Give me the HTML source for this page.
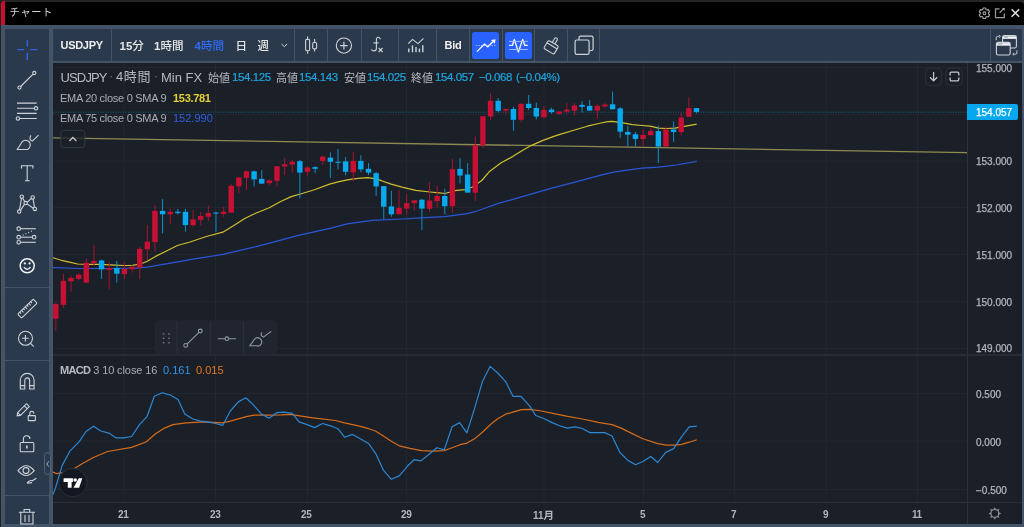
<!DOCTYPE html>
<html><head><meta charset="utf-8"><title>チャート</title>
<style>
*{box-sizing:border-box}
html,body{margin:0;padding:0}
body{width:1024px;height:527px;position:relative;overflow:hidden;background:#445468;font-family:"Liberation Sans","Noto Sans CJK JP",sans-serif}
.a{position:absolute}
.t{position:absolute;white-space:nowrap;line-height:1}
.tb{background:#2a3a4c}
.cjk{font-family:"Liberation Sans","Noto Sans CJK JP",sans-serif}
.cy{font-size:11.5px;color:#1ea6df;letter-spacing:-0.4px;-webkit-text-stroke-width:0.2px}
.pa{left:976px;font-size:10px;color:#b2b5be;-webkit-text-stroke-width:0.25px}
.ta{top:510px;font-size:10px;font-weight:bold;color:#b2b5be;letter-spacing:-0.4px}
.tf{top:41px;font-size:11.5px;font-weight:500;color:#e6e6e6}
svg{position:absolute;left:0;top:0;overflow:visible}
</style></head>
<body>
<!-- outer edges -->
<div class="a" style="left:0;top:0;width:1024px;height:2px;background:#252525"></div>
<div class="a" style="left:0;top:0;width:1px;height:527px;background:#232323"></div>
<!-- title bar -->
<div class="a" style="left:1000px;top:0;width:24px;height:10px;background:#262626"></div>
<div class="a" style="left:1px;top:1.5px;width:1023px;height:23px;background:#000;border-top-right-radius:4px"></div>
<div class="a" style="left:1px;top:1.3px;width:4px;height:23.3px;background:#c8102e;border-top-left-radius:3px"></div>
<div class="t cjk" style="left:9.5px;top:8.2px;font-size:10.2px;letter-spacing:0.8px;color:#d6d6d6">チャート</div>
<svg width="1024" height="26">
  <g fill="none" stroke="#a8a8a8" stroke-width="1.1">
    <circle cx="984.4" cy="13.3" r="1.4"/>
    <path d="M982.86 9.50 L983.19 8.04 L985.61 8.04 L985.94 9.50 L986.92 10.07 L988.35 9.62 L989.56 11.72 L988.46 12.73 L988.46 13.87 L989.56 14.88 L988.35 16.98 L986.92 16.53 L985.94 17.10 L985.61 18.56 L983.19 18.56 L982.86 17.10 L981.88 16.53 L980.45 16.98 L979.24 14.88 L980.34 13.87 L980.34 12.73 L979.24 11.72 L980.45 9.62 L981.88 10.07Z" stroke-linejoin="round"/>
  </g>
  <g fill="none" stroke="#9c9c9c" stroke-width="1.2">
    <path d="M999.5 8.8 h-4 v8.8 h8.8 v-4"/>
    <path d="M999.6 12.8 l4.6 -4.6"/>
  </g>
  <path d="M1002 8.2 h2.6 v2.6z" fill="#bdbdbd"/>
  <path d="M1011.6 9.2 l7.6 7.6 M1019.2 9.2 l-7.6 7.6" stroke="#dedede" stroke-width="1.5"/>
</svg>

<!-- left toolbar groups -->
<div class="a tb" style="left:5px;top:29px;width:44px;height:258px;border-radius:1px"></div>
<div class="a tb" style="left:5px;top:288px;width:44px;height:72px;border-radius:1px"></div>
<div class="a tb" style="left:5px;top:361px;width:44px;height:134px;border-radius:1px"></div>
<div class="a tb" style="left:5px;top:496px;width:44px;height:28px;border-radius:1px 1px 0 0"></div>


<!-- left toolbar icons -->
<svg width="60" height="527">
 <g stroke="#2f62e4" stroke-width="1.4" fill="none">
  <path d="M27.3 39.7v7.1M27.3 52.8v7.1M17.1 49.6h7.1M30.2 49.6h7.1"/>
 </g>
 <g stroke="#cfd2d8" stroke-width="1.1" fill="none">
  <!-- line tool -->
  <path d="M20.6 86.5L33.1 74.2"/>
  <circle cx="19.5" cy="87.6" r="1.6"/><circle cx="34.3" cy="73" r="1.6"/>
  <!-- fib -->
  <path d="M17 103.1h19.6M17 108.3h17.2M17 113.4h19.6M19.6 118.5h17.2"/>
  <circle cx="36" cy="108.3" r="1.7"/><circle cx="17.9" cy="118.5" r="1.7"/>
  <!-- brush -->
  <path d="M17.2 149.5L21.9 142.2A4.6 4.6 0 1 1 25 149.5Z"/>
  <path d="M30.9 135.4Q28.3 139.6 32.3 141.1L38.6 135.2"/>
  <!-- T -->
  <path d="M21.5 168.4v-2.6h11.4v2.6M27.2 165.8v15M24.9 180.8h4.8"/>
  <!-- pattern -->
  <circle cx="21.8" cy="196.7" r="1.7"/><circle cx="32.7" cy="197.4" r="1.7"/><circle cx="25.6" cy="203.1" r="1.7"/><circle cx="19.2" cy="211.6" r="1.7"/><circle cx="34.9" cy="208.9" r="1.7"/>
  <path d="M19.5 209.9L21.5 198.4M22.6 198.2L24.8 201.6M27.2 202.3L31.3 198.3M33.1 199.1L34.5 207.2M33.3 208.2L27.1 203.9M20.5 210.4L24.4 204.4"/>
  <!-- forecast -->
  <circle cx="18.7" cy="228.7" r="1.8"/><path d="M20.5 228.7h15.3"/>
  <circle cx="18.7" cy="237.2" r="1.8"/><circle cx="34.1" cy="237.2" r="1.8"/><path d="M20.5 237.2h11.8"/>
  <circle cx="18.7" cy="242.3" r="1.8"/><path d="M20.5 242.3h15.3"/>
  <path d="M22.8 235.3l10.7-5.1" stroke-dasharray="1 2"/>
  <!-- smiley -->
  <circle cx="27.2" cy="265.8" r="7" stroke-width="1.5" stroke="#f2f3f5"/><circle cx="24.8" cy="263.4" r="1.1" fill="#f2f3f5" stroke="none"/><circle cx="29.6" cy="263.4" r="1.1" fill="#f2f3f5" stroke="none"/>
  <path d="M23.9 267.1Q27.2 271.4 30.5 267.1" stroke-width="1.4" stroke="#f2f3f5"/>
  <!-- ruler -->
  <g transform="rotate(-44 27.4 308.6)"><rect x="16.6" y="305.8" width="21.6" height="5.6" rx="1"/><path d="M19.5 305.8v2M22 305.8v2.8M24.5 305.8v2M27 305.8v2.8M29.5 305.8v2M32 305.8v2.8M34.5 305.8v2"/></g>
  <!-- zoom -->
  <circle cx="25.5" cy="338.3" r="7"/><path d="M25.4 335v6.6M22.1 338.3h6.6M30.6 343.3l3.2 3.3"/>
  <!-- magnet -->
  <path d="M20.3 389V380.3A6.9 6.9 0 0 1 34.1 380.3V389H29.6V380.3A2.4 2.4 0 0 0 24.8 380.3V389Z"/>
  <path d="M20.3 385.6h4.5M29.6 385.6h4.5"/>
  <!-- pencil -->
  <g transform="rotate(-45 24 409)"><path d="M17 407h12.5v4H17l-2.7-2Z"/><path d="M17 407v4M26.5 407v4"/></g>
  <rect x="28.2" y="415.6" width="7.2" height="5" rx="0.6"/><path d="M29.8 415.6v-2.2a2 2 0 0 1 4 0"/>
  <!-- unlock -->
  <rect x="20.2" y="442.5" width="13.6" height="9.2" rx="1"/><path d="M23.4 442.5v-3.2a3.3 3.3 0 0 1 6.6 -0.4"/>
  <path d="M26.9 445.4v3" stroke-width="1.6"/>
  <!-- eye -->
  <path d="M18 470.6Q26.1 460.8 34.2 470.6Q26.1 480.4 18 470.6Z"/><circle cx="26" cy="470.6" r="3"/>
  <path d="M27 483.3Q29.5 479.5 32.2 480.8L36.4 478.3M27 483.3L32 482.6"/>
  <!-- trash -->
  <path d="M18.8 512.2h16.2M24.1 512v-2.5h5.6v2.5M20.8 512.2V524h12.2V512.2M25 515v7M29 515v7"/>
 </g>
 <!-- collapse tab -->
 <rect x="44.5" y="452.8" width="6" height="21.5" rx="2.5" fill="#2a3a4c" stroke="#506178" stroke-width="1"/>
 <path d="M48.6 461.4L46.8 464L48.6 466.6" stroke="#aab3c0" stroke-width="1" fill="none"/>
</svg>

<!-- top toolbar groups -->
<div class="a tb" style="left:53px;top:29px;width:58px;height:32px"></div>
<div class="a tb" style="left:112px;top:29px;width:182px;height:32px"></div>
<div class="a tb" style="left:295px;top:29px;width:32px;height:32px"></div>
<div class="a tb" style="left:328px;top:29px;width:33px;height:32px"></div>
<div class="a tb" style="left:362px;top:29px;width:36px;height:32px"></div>
<div class="a tb" style="left:399px;top:29px;width:37px;height:32px"></div>
<div class="a tb" style="left:437px;top:29px;width:32px;height:32px"></div>
<div class="a tb" style="left:470px;top:29px;width:32px;height:32px"></div>
<div class="a tb" style="left:503px;top:29px;width:31px;height:32px"></div>
<div class="a tb" style="left:535px;top:29px;width:32px;height:32px"></div>
<div class="a tb" style="left:568px;top:29px;width:31px;height:32px"></div>
<div class="a tb" style="left:600px;top:29px;width:390px;height:32px"></div>
<div class="a tb" style="left:991px;top:29px;width:31px;height:32px"></div>
<div class="a" style="left:472.2px;top:31.6px;width:26.9px;height:27.3px;background:#2962ff;border-radius:2.5px"></div>
<div class="a" style="left:505px;top:31.6px;width:26.9px;height:27.3px;background:#2962ff;border-radius:2.5px"></div>


<!-- top toolbar icons -->
<svg width="1024" height="64">
 <g stroke="#cfd2d8" stroke-width="1.1" fill="none">
  <path d="M281.5 44l2.8 2.6 2.8-2.6" stroke-width="1"/>
  <!-- candles -->
  <rect x="305.6" y="39.4" width="4" height="11.4" rx="1.2"/><path d="M307.6 36.6v2.8M307.6 50.8v3"/>
  <rect x="312.7" y="42.5" width="3.9" height="6.4" rx="1.2"/><path d="M314.6 39.1v3.4M314.6 48.9v2.7"/>
  <!-- plus circle -->
  <circle cx="343.9" cy="45.6" r="7.6"/><path d="M343.9 41.8v7.6M340.1 45.6h7.6" stroke-width="1.2"/>
  <!-- fx -->
  <path d="M380.4 39.4Q380.2 37.2 378.1 37.3Q376.4 37.5 376.4 40V48.6Q376.4 50.9 374 50.9Q371.8 50.9 371.6 49.2"/>
  <path d="M373.3 42.9h5.4"/>
  <path d="M378.6 47.8l4 4.2M382.6 47.8l-4 4.2" stroke-width="1.2"/>
  <!-- indicators -->
  <path d="M408.3 43.6L412.5 39.4L418 43.6L423.5 38.4"/>
  <path d="M408.8 48.6v3.6M412.5 45.2v7M416 47.1v5.1M419.4 48.6v3.6M422.8 45.2v7" stroke-width="1.4"/>
  <!-- brush -->
  <g transform="rotate(31 551.1 47.3)"><rect x="545.2" y="42.6" width="11.9" height="9.4" rx="1.5"/><path d="M545.2 45.6h11.9"/><path d="M549.6 42.6v-4.6a1.5 1.5 0 0 1 3 0v4.6"/></g>
  <!-- copy -->
  <path d="M579 39.9v-2.2a1.5 1.5 0 0 1 1.5 -1.5h11.1a1.5 1.5 0 0 1 1.5 1.5v11.3a1.5 1.5 0 0 1 -1.5 1.5h-2.3" stroke-width="1.2"/>
  <rect x="575.1" y="40" width="14" height="14.4" rx="1.6" stroke-width="1.2"/>
  <!-- layout icon -->
  <rect x="1002.6" y="35.6" width="13.8" height="12.4" rx="1.8"/>
  <path d="M1002.8 37.6h13.4" stroke-width="2.6" stroke="#eef0f3"/>
  <rect x="996.4" y="42.4" width="13.8" height="12.6" rx="1.8" fill="#2a3a4c"/>
  <path d="M996.6 44.4h13.4" stroke-width="2.6" stroke="#eef0f3"/>
  <path d="M1004.3 37.2h3.6M998.2 44h4" stroke="#8e96a2" stroke-width="0.9"/>
  <path d="M996.2 40.2v-2.4a1.4 1.4 0 0 1 1.4 -1.4h1.3" stroke-width="1"/><path d="M999 35.2l1.4 1.2-1.4 1.2" stroke-width="1"/>
  <path d="M1016.9 50.4v2.4a1.4 1.4 0 0 1 -1.4 1.4h-1.3" stroke-width="1"/><path d="M1014.2 53l-1.4 1.2 1.4 1.2" stroke-width="1"/>
 </g>
 <!-- blue button icons -->
 <g stroke="#ffffff" stroke-width="1.3" fill="none">
  <path d="M476.9 51.6L484.5 44.1L487.8 46.8L493.8 40.8"/>
  <path d="M509.1 45.3h3.4L514.3 39.4L518.4 52L522.7 39.4L524.7 45.3h3.1" stroke-linejoin="round"/>
 </g>
 <path d="M495.6 39.2l-0.8 4.6-3.8-3.8z" fill="#fff"/>
 <path d="M475.9 45.5h19.7" stroke="#a9c2ff" stroke-width="1" stroke-dasharray="1.3 1.3"/>
 <path d="M509.1 41.4h18.7M509.1 49.5h18.7" stroke="#9fbaff" stroke-width="1"/>
</svg>

<!-- top toolbar text -->
<div class="t" style="left:60.5px;top:40px;font-size:11px;font-weight:bold;color:#f0f0f0;letter-spacing:-0.3px">USDJPY</div>
<div class="t tf" style="left:119.5px"><b>15</b>分</div>
<div class="t tf" style="left:154px"><b>1</b>時間</div>
<div class="t tf" style="left:194.5px;color:#2f6bf2"><b>4</b>時間</div>
<div class="t tf" style="left:235.5px">日</div>
<div class="t tf" style="left:257.5px">週</div>
<div class="t" style="left:444.5px;top:40px;font-size:11px;font-weight:bold;color:#f0f0f0;letter-spacing:-0.3px">Bid</div>
<!-- chart area -->
<div class="a" style="left:53px;top:63px;width:969px;height:461px;background:#1b2028"></div>
<svg width="1024" height="527">
<rect x="53" y="67.0" width="914" height="1" fill="#22272f"/>
<rect x="53" y="114.0" width="914" height="1" fill="#22272f"/>
<rect x="53" y="160.5" width="914" height="1" fill="#22272f"/>
<rect x="53" y="207.0" width="914" height="1" fill="#22272f"/>
<rect x="53" y="254.0" width="914" height="1" fill="#22272f"/>
<rect x="53" y="301.0" width="914" height="1" fill="#22272f"/>
<rect x="53" y="348.0" width="914" height="1" fill="#22272f"/>
<rect x="53" y="393.0" width="914" height="1" fill="#22272f"/>
<rect x="53" y="440.5" width="914" height="1" fill="#22272f"/>
<rect x="53" y="489.0" width="914" height="1" fill="#22272f"/>
<rect x="123.5" y="63" width="1" height="439" fill="#22272f"/>
<rect x="215.0" y="63" width="1" height="439" fill="#22272f"/>
<rect x="307.0" y="63" width="1" height="439" fill="#22272f"/>
<rect x="406.0" y="63" width="1" height="439" fill="#22272f"/>
<rect x="543.5" y="63" width="1" height="439" fill="#22272f"/>
<rect x="643.0" y="63" width="1" height="439" fill="#22272f"/>
<rect x="734.0" y="63" width="1" height="439" fill="#22272f"/>
<rect x="825.5" y="63" width="1" height="439" fill="#22272f"/>
<rect x="917.0" y="63" width="1" height="439" fill="#22272f"/>
<line x1="53" y1="137.9" x2="967" y2="152.6" stroke="#8e8a50" stroke-width="1.25"/>
<line x1="53" y1="112.2" x2="967" y2="112.2" stroke="#12617f" stroke-width="1" stroke-dasharray="1 1.5"/>
<polyline points="53.0,267.7 80.3,268.5 107.7,268.5 135.0,268.1 147.3,267.1 169.2,263.3 193.0,259.2 223.0,254.4 263.8,244.7 299.4,235.2 330.0,228.3 347.3,223.8 372.0,220.4 402.0,219.0 430.0,217.3 444.6,216.6 467.1,213.7 474.9,211.7 484.7,208.3 498.4,203.4 513.0,199.4 525.0,195.9 550.0,188.6 575.0,182.2 600.0,175.4 614.7,171.9 642.0,168.2 658.4,167.1 676.2,165.0 696.7,161.3" fill="none" stroke="#2a56d8" stroke-width="1.2" stroke-linejoin="round"/>
<polyline points="53.0,257.8 61.2,260.3 69.4,262.2 77.6,264.0 87.2,264.4 100.9,264.4 114.5,265.1 124.1,265.5 132.3,265.3 140.5,264.0 147.3,261.2 155.5,256.4 166.5,251.0 177.4,245.5 190.0,242.0 206.4,236.5 222.8,232.2 233.8,225.6 244.7,218.5 255.6,213.3 269.3,207.8 280.2,201.7 291.2,196.6 302.1,193.5 314.4,189.8 329.6,184.1 339.1,181.7 348.7,179.6 358.3,178.3 367.9,177.7 374.7,178.7 381.5,180.7 391.1,184.1 402.0,187.1 415.7,190.3 430.0,192.0 439.0,192.9 445.0,193.5 456.4,190.3 465.2,189.6 472.0,187.3 481.8,180.5 489.8,171.2 501.2,162.7 512.6,156.6 521.1,151.3 531.0,145.6 542.4,140.6 553.8,136.4 560.0,134.4 573.7,130.3 587.3,126.2 601.0,123.0 607.9,121.7 612.6,121.4 617.4,122.1 624.3,123.2 632.5,124.6 642.0,125.5 650.2,126.2 658.4,128.2 666.6,128.5 674.8,128.2 683.0,126.6 696.7,124.1" fill="none" stroke="#cfbe2e" stroke-width="1.2" stroke-linejoin="round"/>
<rect x="55.30" y="302.6" width="1" height="28.0" fill="#a8122f"/>
<rect x="53.10" y="304.1" width="5.4" height="14.6" fill="#c81034"/>
<rect x="62.93" y="273.7" width="1" height="34.2" fill="#a8122f"/>
<rect x="60.73" y="280.8" width="5.4" height="24.0" fill="#c81034"/>
<rect x="70.55" y="275.6" width="1" height="16.0" fill="#a8122f"/>
<rect x="68.35" y="277.9" width="5.4" height="3.4" fill="#c81034"/>
<rect x="78.18" y="273.2" width="1" height="7.0" fill="#a8122f"/>
<rect x="75.98" y="274.7" width="5.4" height="4.2" fill="#c81034"/>
<rect x="85.81" y="258.6" width="1" height="24.1" fill="#a8122f"/>
<rect x="83.61" y="262.7" width="5.4" height="20.0" fill="#c81034"/>
<rect x="93.44" y="244.7" width="1" height="20.9" fill="#a8122f"/>
<rect x="91.23" y="260.9" width="5.4" height="2.2" fill="#c81034"/>
<rect x="101.06" y="259.5" width="1" height="19.4" fill="#0c8fc9"/>
<rect x="98.86" y="260.5" width="5.4" height="8.9" fill="#08a9ef"/>
<rect x="108.69" y="261.8" width="1" height="27.1" fill="#a8122f"/>
<rect x="106.49" y="268.1" width="5.4" height="1.9" fill="#c81034"/>
<rect x="116.32" y="260.9" width="1" height="21.8" fill="#0c8fc9"/>
<rect x="114.12" y="268.0" width="5.4" height="5.7" fill="#08a9ef"/>
<rect x="123.94" y="262.4" width="1" height="16.5" fill="#a8122f"/>
<rect x="121.74" y="268.8" width="5.4" height="5.3" fill="#c81034"/>
<rect x="131.57" y="264.9" width="1" height="7.6" fill="#a8122f"/>
<rect x="129.37" y="266.8" width="5.4" height="2.4" fill="#c81034"/>
<rect x="139.20" y="246.9" width="1" height="32.2" fill="#a8122f"/>
<rect x="137.00" y="248.8" width="5.4" height="18.9" fill="#c81034"/>
<rect x="146.82" y="225.1" width="1" height="35.0" fill="#a8122f"/>
<rect x="144.62" y="241.6" width="5.4" height="7.7" fill="#c81034"/>
<rect x="154.45" y="205.2" width="1" height="46.4" fill="#a8122f"/>
<rect x="152.25" y="210.9" width="5.4" height="31.2" fill="#c81034"/>
<rect x="162.08" y="199.1" width="1" height="34.1" fill="#0c8fc9"/>
<rect x="159.88" y="210.9" width="5.4" height="3.4" fill="#08a9ef"/>
<rect x="169.70" y="208.6" width="1" height="15.5" fill="#a8122f"/>
<rect x="167.50" y="211.8" width="5.4" height="2.5" fill="#c81034"/>
<rect x="177.33" y="209.0" width="1" height="5.6" fill="#0c8fc9"/>
<rect x="175.13" y="211.8" width="5.4" height="1.3" fill="#08a9ef"/>
<rect x="184.96" y="209.0" width="1" height="22.7" fill="#0c8fc9"/>
<rect x="182.76" y="211.8" width="5.4" height="13.3" fill="#08a9ef"/>
<rect x="192.59" y="209.9" width="1" height="17.1" fill="#a8122f"/>
<rect x="190.39" y="219.4" width="5.4" height="5.7" fill="#c81034"/>
<rect x="200.21" y="211.8" width="1" height="13.7" fill="#a8122f"/>
<rect x="198.01" y="216.0" width="5.4" height="3.8" fill="#c81034"/>
<rect x="207.84" y="205.4" width="1" height="15.7" fill="#a8122f"/>
<rect x="205.64" y="213.0" width="5.4" height="3.8" fill="#c81034"/>
<rect x="215.47" y="211.7" width="1" height="20.2" fill="#0c8fc9"/>
<rect x="213.27" y="212.6" width="5.4" height="1.0" fill="#08a9ef"/>
<rect x="223.09" y="206.7" width="1" height="10.1" fill="#a8122f"/>
<rect x="220.89" y="211.7" width="5.4" height="2.2" fill="#c81034"/>
<rect x="230.72" y="184.0" width="1" height="28.6" fill="#a8122f"/>
<rect x="228.52" y="185.9" width="5.4" height="26.7" fill="#c81034"/>
<rect x="238.35" y="177.0" width="1" height="16.1" fill="#a8122f"/>
<rect x="236.15" y="177.5" width="5.4" height="8.9" fill="#c81034"/>
<rect x="245.97" y="170.3" width="1" height="19.9" fill="#a8122f"/>
<rect x="243.77" y="171.3" width="5.4" height="6.6" fill="#c81034"/>
<rect x="253.60" y="170.7" width="1" height="15.7" fill="#0c8fc9"/>
<rect x="251.40" y="171.3" width="5.4" height="8.1" fill="#08a9ef"/>
<rect x="261.23" y="170.0" width="1" height="13.6" fill="#0c8fc9"/>
<rect x="259.03" y="178.9" width="5.4" height="4.7" fill="#08a9ef"/>
<rect x="268.86" y="179.2" width="1" height="5.9" fill="#a8122f"/>
<rect x="266.66" y="180.4" width="5.4" height="2.8" fill="#c81034"/>
<rect x="276.48" y="166.0" width="1" height="20.4" fill="#a8122f"/>
<rect x="274.28" y="166.2" width="5.4" height="14.6" fill="#c81034"/>
<rect x="284.11" y="158.0" width="1" height="17.1" fill="#a8122f"/>
<rect x="281.91" y="164.3" width="5.4" height="2.2" fill="#c81034"/>
<rect x="291.74" y="159.9" width="1" height="12.7" fill="#a8122f"/>
<rect x="289.54" y="161.8" width="5.4" height="2.8" fill="#c81034"/>
<rect x="299.36" y="159.9" width="1" height="38.5" fill="#0c8fc9"/>
<rect x="297.16" y="161.2" width="5.4" height="11.4" fill="#08a9ef"/>
<rect x="306.99" y="166.2" width="1" height="9.4" fill="#a8122f"/>
<rect x="304.79" y="167.5" width="5.4" height="4.3" fill="#c81034"/>
<rect x="314.62" y="166.2" width="1" height="7.0" fill="#0c8fc9"/>
<rect x="312.42" y="167.1" width="5.4" height="1.7" fill="#08a9ef"/>
<rect x="322.25" y="155.5" width="1" height="9.1" fill="#a8122f"/>
<rect x="320.05" y="156.7" width="5.4" height="4.2" fill="#c81034"/>
<rect x="329.87" y="152.3" width="1" height="25.6" fill="#0c8fc9"/>
<rect x="327.67" y="157.6" width="5.4" height="4.2" fill="#08a9ef"/>
<rect x="337.50" y="148.9" width="1" height="20.5" fill="#0c8fc9"/>
<rect x="335.30" y="161.8" width="5.4" height="1.0" fill="#08a9ef"/>
<rect x="345.13" y="157.0" width="1" height="18.4" fill="#0c8fc9"/>
<rect x="342.93" y="161.4" width="5.4" height="10.4" fill="#08a9ef"/>
<rect x="352.75" y="151.8" width="1" height="29.5" fill="#a8122f"/>
<rect x="350.55" y="160.9" width="5.4" height="11.5" fill="#c81034"/>
<rect x="360.38" y="155.2" width="1" height="17.0" fill="#0c8fc9"/>
<rect x="358.18" y="160.9" width="5.4" height="8.5" fill="#08a9ef"/>
<rect x="368.01" y="163.1" width="1" height="12.0" fill="#0c8fc9"/>
<rect x="365.81" y="168.8" width="5.4" height="3.8" fill="#08a9ef"/>
<rect x="375.63" y="171.8" width="1" height="24.1" fill="#0c8fc9"/>
<rect x="373.43" y="173.2" width="5.4" height="13.2" fill="#08a9ef"/>
<rect x="383.26" y="186.0" width="1" height="33.2" fill="#0c8fc9"/>
<rect x="381.06" y="186.1" width="5.4" height="20.6" fill="#08a9ef"/>
<rect x="390.89" y="190.8" width="1" height="26.0" fill="#0c8fc9"/>
<rect x="388.69" y="206.4" width="5.4" height="7.9" fill="#08a9ef"/>
<rect x="398.51" y="190.2" width="1" height="24.1" fill="#a8122f"/>
<rect x="396.31" y="207.9" width="5.4" height="6.4" fill="#c81034"/>
<rect x="406.14" y="194.0" width="1" height="20.9" fill="#a8122f"/>
<rect x="403.94" y="203.1" width="5.4" height="5.5" fill="#c81034"/>
<rect x="413.77" y="200.0" width="1" height="10.5" fill="#a8122f"/>
<rect x="411.57" y="200.3" width="5.4" height="2.8" fill="#c81034"/>
<rect x="421.40" y="198.8" width="1" height="31.2" fill="#0c8fc9"/>
<rect x="419.20" y="199.7" width="5.4" height="8.9" fill="#08a9ef"/>
<rect x="429.02" y="182.1" width="1" height="29.8" fill="#a8122f"/>
<rect x="426.82" y="200.5" width="5.4" height="8.2" fill="#c81034"/>
<rect x="436.65" y="185.9" width="1" height="22.2" fill="#a8122f"/>
<rect x="434.45" y="196.0" width="5.4" height="5.1" fill="#c81034"/>
<rect x="444.28" y="188.8" width="1" height="25.6" fill="#0c8fc9"/>
<rect x="442.08" y="196.0" width="5.4" height="10.2" fill="#08a9ef"/>
<rect x="451.90" y="158.8" width="1" height="54.2" fill="#a8122f"/>
<rect x="449.70" y="169.2" width="5.4" height="37.0" fill="#c81034"/>
<rect x="459.53" y="158.1" width="1" height="25.4" fill="#0c8fc9"/>
<rect x="457.33" y="168.9" width="5.4" height="6.6" fill="#08a9ef"/>
<rect x="467.16" y="163.2" width="1" height="29.4" fill="#0c8fc9"/>
<rect x="464.96" y="174.5" width="5.4" height="18.1" fill="#08a9ef"/>
<rect x="474.79" y="136.5" width="1" height="64.6" fill="#a8122f"/>
<rect x="472.59" y="145.1" width="5.4" height="47.5" fill="#c81034"/>
<rect x="482.41" y="116.0" width="1" height="32.0" fill="#a8122f"/>
<rect x="480.21" y="116.2" width="5.4" height="29.1" fill="#c81034"/>
<rect x="490.04" y="93.4" width="1" height="26.9" fill="#a8122f"/>
<rect x="487.84" y="100.8" width="5.4" height="15.7" fill="#c81034"/>
<rect x="497.67" y="98.0" width="1" height="14.4" fill="#0c8fc9"/>
<rect x="495.47" y="100.8" width="5.4" height="10.1" fill="#08a9ef"/>
<rect x="505.29" y="108.6" width="1" height="5.1" fill="#a8122f"/>
<rect x="503.09" y="109.0" width="5.4" height="1.5" fill="#c81034"/>
<rect x="512.92" y="106.7" width="1" height="24.1" fill="#0c8fc9"/>
<rect x="510.72" y="109.0" width="5.4" height="10.8" fill="#08a9ef"/>
<rect x="520.55" y="103.8" width="1" height="18.4" fill="#a8122f"/>
<rect x="518.35" y="103.8" width="5.4" height="16.0" fill="#c81034"/>
<rect x="528.17" y="95.1" width="1" height="14.8" fill="#0c8fc9"/>
<rect x="525.97" y="103.8" width="5.4" height="4.2" fill="#08a9ef"/>
<rect x="535.80" y="102.7" width="1" height="16.7" fill="#0c8fc9"/>
<rect x="533.60" y="108.0" width="5.4" height="8.5" fill="#08a9ef"/>
<rect x="543.43" y="106.1" width="1" height="11.4" fill="#a8122f"/>
<rect x="541.23" y="109.8" width="5.4" height="7.6" fill="#c81034"/>
<rect x="551.06" y="107.7" width="1" height="6.1" fill="#0c8fc9"/>
<rect x="548.86" y="109.6" width="5.4" height="2.5" fill="#08a9ef"/>
<rect x="558.68" y="111.5" width="1" height="3.3" fill="#a8122f"/>
<rect x="556.48" y="111.5" width="5.4" height="2.3" fill="#c81034"/>
<rect x="566.31" y="103.0" width="1" height="11.4" fill="#a8122f"/>
<rect x="564.11" y="109.6" width="5.4" height="1.9" fill="#c81034"/>
<rect x="573.94" y="103.0" width="1" height="12.3" fill="#a8122f"/>
<rect x="571.74" y="105.5" width="5.4" height="5.1" fill="#c81034"/>
<rect x="581.56" y="101.1" width="1" height="11.4" fill="#0c8fc9"/>
<rect x="579.36" y="104.9" width="5.4" height="1.9" fill="#08a9ef"/>
<rect x="589.19" y="100.2" width="1" height="10.4" fill="#0c8fc9"/>
<rect x="586.99" y="105.9" width="5.4" height="4.7" fill="#08a9ef"/>
<rect x="596.82" y="103.6" width="1" height="15.5" fill="#a8122f"/>
<rect x="594.62" y="105.9" width="5.4" height="4.7" fill="#c81034"/>
<rect x="604.44" y="103.0" width="1" height="4.7" fill="#a8122f"/>
<rect x="602.24" y="104.5" width="5.4" height="1.9" fill="#c81034"/>
<rect x="612.07" y="91.6" width="1" height="17.7" fill="#0c8fc9"/>
<rect x="609.87" y="104.3" width="5.4" height="5.0" fill="#08a9ef"/>
<rect x="619.70" y="106.8" width="1" height="31.1" fill="#0c8fc9"/>
<rect x="617.50" y="108.4" width="5.4" height="23.3" fill="#08a9ef"/>
<rect x="627.33" y="125.8" width="1" height="20.8" fill="#0c8fc9"/>
<rect x="625.12" y="132.0" width="5.4" height="2.7" fill="#08a9ef"/>
<rect x="634.95" y="132.0" width="1" height="14.6" fill="#0c8fc9"/>
<rect x="632.75" y="134.3" width="5.4" height="4.7" fill="#08a9ef"/>
<rect x="642.58" y="130.1" width="1" height="15.6" fill="#a8122f"/>
<rect x="640.38" y="134.9" width="5.4" height="4.1" fill="#c81034"/>
<rect x="650.21" y="128.2" width="1" height="7.0" fill="#a8122f"/>
<rect x="648.01" y="131.1" width="5.4" height="4.1" fill="#c81034"/>
<rect x="657.83" y="125.8" width="1" height="37.3" fill="#0c8fc9"/>
<rect x="655.63" y="131.1" width="5.4" height="15.5" fill="#08a9ef"/>
<rect x="665.46" y="126.3" width="1" height="20.3" fill="#a8122f"/>
<rect x="663.26" y="129.5" width="5.4" height="17.1" fill="#c81034"/>
<rect x="673.09" y="121.4" width="1" height="20.5" fill="#0c8fc9"/>
<rect x="670.89" y="129.5" width="5.4" height="2.5" fill="#08a9ef"/>
<rect x="680.71" y="112.5" width="1" height="22.7" fill="#a8122f"/>
<rect x="678.51" y="117.6" width="5.4" height="14.4" fill="#c81034"/>
<rect x="688.34" y="97.3" width="1" height="19.5" fill="#a8122f"/>
<rect x="686.14" y="108.1" width="5.4" height="8.7" fill="#c81034"/>
<rect x="695.97" y="108.0" width="1" height="5.4" fill="#0c8fc9"/>
<rect x="693.77" y="108.1" width="5.4" height="3.8" fill="#08a9ef"/>
<polyline points="53.0,472.0 56.4,473.6 63.2,472.5 73.5,469.0 82.6,463.4 92.8,457.7 107.6,451.5 131.6,447.4 146.4,441.7 155.5,433.8 164.6,428.1 173.0,424.6 186.0,422.8 204.2,421.9 222.4,422.8 230.3,421.2 246.3,416.7 254.2,415.1 267.9,415.1 281.6,414.9 290.0,414.4 312.8,417.8 335.5,420.5 344.6,422.8 358.3,425.8 368.6,428.7 375.4,431.0 383.4,436.0 391.3,441.3 399.3,445.8 410.0,448.4 421.4,450.6 432.8,451.1 444.2,450.6 452.1,447.7 460.1,444.7 466.9,443.1 474.9,438.6 482.9,431.7 490.8,424.2 497.7,418.7 505.6,414.2 513.6,411.9 521.6,409.6 530.0,409.4 541.4,411.0 552.8,413.3 566.4,416.2 582.4,419.0 598.3,422.4 612.0,424.6 621.1,428.1 630.2,432.6 642.9,438.7 657.8,443.6 666.4,445.1 675.5,445.1 681.6,444.3 689.2,442.2 696.8,439.8" fill="none" stroke="#d66c19" stroke-width="1.2" stroke-linejoin="round"/>
<polyline points="53.0,494.5 55.3,488.5 62.1,465.6 70.1,450.8 79.2,441.7 86.0,431.5 93.5,426.2 100.8,431.0 108.8,433.1 116.3,437.9 123.6,437.9 131.6,436.5 139.5,424.6 147.0,416.7 154.3,396.2 162.3,392.8 170.3,395.0 178.0,399.6 184.8,413.9 192.8,419.0 200.7,421.2 207.6,421.9 215.5,423.5 222.8,425.3 230.3,411.0 238.3,401.9 245.8,397.8 253.1,404.6 261.1,413.7 269.0,418.3 277.0,412.6 283.8,412.1 292.3,413.3 299.1,421.9 307.1,424.6 314.6,427.6 322.6,423.5 330.5,425.8 337.8,428.7 344.6,437.2 352.6,434.4 360.6,439.0 368.6,443.5 376.1,454.2 383.4,470.2 391.3,479.3 399.3,475.9 407.3,466.3 414.1,459.7 420.9,460.9 429.4,454.0 436.9,447.7 444.2,449.9 452.1,426.7 459.6,422.6 466.9,432.9 474.9,407.4 482.4,381.6 490.1,366.4 497.7,373.0 505.6,381.6 513.1,396.4 520.9,396.4 530.0,406.4 535.7,415.5 543.7,418.5 551.6,422.4 559.6,425.8 567.1,428.1 574.9,426.9 582.4,428.5 589.9,432.6 597.2,432.6 604.7,432.6 612.0,436.0 619.9,452.4 627.4,459.9 635.5,464.8 642.9,461.5 650.8,456.5 657.8,462.5 665.7,452.4 673.7,448.6 681.3,437.2 689.2,426.9 696.8,426.1" fill="none" stroke="#2c87d4" stroke-width="1.2" stroke-linejoin="round"/>
</svg>

<!-- axes separators -->
<div class="a" style="left:967px;top:63px;width:1px;height:461px;background:#2c323d"></div>
<div class="a" style="left:53px;top:354px;width:969px;height:2px;background:#262c36"></div>
<div class="a" style="left:53px;top:502px;width:969px;height:1px;background:#2a303b"></div>


<!-- chart overlays -->
<svg width="1024" height="527">
 <!-- collapse legend button -->
 <rect x="60.8" y="130.3" width="24" height="17.3" rx="3" fill="rgba(27,32,40,0.75)" stroke="#343a46" stroke-width="1"/>
 <path d="M69.4 140.9l3.5-3.4 3.5 3.4" stroke="#c3c6cd" stroke-width="1.4" fill="none"/>
 <!-- top right buttons -->
 <rect x="925.7" y="68.2" width="15.6" height="17.2" rx="4" fill="#1a1e26" stroke="#2c313b" stroke-width="1"/>
 <rect x="945.9" y="68.2" width="16.2" height="17.2" rx="4" fill="#1a1e26" stroke="#2c313b" stroke-width="1"/>
 <g stroke="#c3c6cd" stroke-width="1.2" fill="none">
  <path d="M933.6 72.1v8.4M930 77.3l3.6 3.5 3.6-3.5"/>
  <path d="M950.1 75.4v-2a1.3 1.3 0 0 1 1.3 -1.3h6.1a1.3 1.3 0 0 1 1.3 1.3v2M950.1 77.6v2a1.3 1.3 0 0 0 1.3 1.3h6.1a1.3 1.3 0 0 0 1.3 -1.3v-2" stroke-width="1.3"/>
 </g>
 <!-- floating drawing toolbar -->
 <rect x="155.3" y="321" width="121.6" height="33.6" rx="5" fill="#21252f" stroke="#252a34" stroke-width="0.8"/>
 <path d="M176.9 321.5v32.6M210.4 321.5v32.6M243.4 321.5v32.6" stroke="#2c313c" stroke-width="1"/>
 <g fill="#6d7482">
  <rect x="162.8" y="333.2" width="1.5" height="1.5"/><rect x="168.2" y="333.2" width="1.5" height="1.5"/>
  <rect x="162.8" y="337.6" width="1.5" height="1.5"/><rect x="168.2" y="337.6" width="1.5" height="1.5"/>
  <rect x="162.8" y="342" width="1.5" height="1.5"/><rect x="168.2" y="342" width="1.5" height="1.5"/>
 </g>
 <g stroke="#8f9aa8" stroke-width="1.1" fill="none">
  <circle cx="185.7" cy="345.4" r="1.9"/><circle cx="200.3" cy="331" r="1.9"/><path d="M187 344.1L199 332.3"/>
  <path d="M217.9 338.7h7.2M228.7 338.7h7.2"/><circle cx="226.9" cy="338.7" r="1.8"/>
  <path d="M249.8 345.8L254.4 339.4A4.1 4.1 0 1 1 256.2 345.8Z"/>
  <path d="M262 332.4Q259.8 335.6 263.3 337.1L271.2 331.4"/>
 </g>
 <!-- settings gear -->
 <circle cx="994.8" cy="513.4" r="3.9" fill="none" stroke="#8b909b" stroke-width="1.2"/><path d="M993.56 509.39L994.80 507.00L996.04 509.39Z M996.76 509.69L999.33 508.87L998.51 511.44Z M998.81 512.16L1001.20 513.40L998.81 514.64Z M998.51 515.36L999.33 517.93L996.76 517.11Z M996.04 517.41L994.80 519.80L993.56 517.41Z M992.84 517.11L990.27 517.93L991.09 515.36Z M990.79 514.64L988.40 513.40L990.79 512.16Z M991.09 511.44L990.27 508.87L992.84 509.69Z" fill="#8b909b"/>
 <!-- TV logo -->
 <circle cx="72.9" cy="482.6" r="14.2" fill="#131722" stroke="#2a2e39" stroke-width="1"/>
 <g fill="#ffffff">
  <path d="M63.6 478.3h9.3v3.6h-1.3v5.9h-3.8v-5.9h-4.2z"/>
  <circle cx="75.2" cy="480" r="1.8"/>
  <path d="M78.8 478.3h3.5l-3.2 9.5h-5.6z"/>
 </g>
</svg>

<!-- legend -->
<div class="t" style="left:60.5px;top:71px;font-size:13px;color:#b6b9c1;letter-spacing:-0.85px">USDJPY</div>
<div class="t" style="left:109px;top:69px;font-size:13px;color:#6c717c">·</div>
<div class="t" style="left:116px;top:70px;font-size:13px;color:#b6b9c1;letter-spacing:0.6px">4時間</div>
<div class="t" style="left:154px;top:69px;font-size:13px;color:#6c717c">·</div>
<div class="t" style="left:161px;top:71px;font-size:13px;color:#b6b9c1">Min FX</div>
<div class="t" style="left:208px;top:73px;font-size:11px;color:#b6b9c1">始値</div>
<div class="t cy" style="left:232px;top:72px">154.125</div>
<div class="t" style="left:276px;top:73px;font-size:11px;color:#b6b9c1">高値</div>
<div class="t cy" style="left:299px;top:72px">154.143</div>
<div class="t" style="left:344px;top:73px;font-size:11px;color:#b6b9c1">安値</div>
<div class="t cy" style="left:367px;top:72px">154.025</div>
<div class="t" style="left:411px;top:73px;font-size:11px;color:#b6b9c1">終値</div>
<div class="t cy" style="left:435px;top:72px">154.057</div>
<div class="t cy" style="left:479px;top:72px">−0.068</div>
<div class="t cy" style="left:516px;top:72px">(−0.04%)</div>
<div class="t" style="left:60px;top:93px;font-size:11px;color:#a9adb6;letter-spacing:-0.28px">EMA 20 close 0 SMA 9</div>
<div class="t" style="left:173px;top:93px;font-size:11px;font-weight:bold;color:#e1cf36;letter-spacing:-0.3px">153.781</div>
<div class="t" style="left:60px;top:113px;font-size:11px;color:#a9adb6;letter-spacing:-0.28px">EMA 75 close 0 SMA 9</div>
<div class="t" style="left:173px;top:113px;font-size:11px;color:#2f5fe6">152.990</div>
<div class="t" style="left:60px;top:365px;font-size:11px;color:#a9adb6;letter-spacing:-0.28px"><b style="color:#b9bcc4;letter-spacing:-0.7px">MACD</b><span style="letter-spacing:-0.1px"> 3 10 close 16</span></div>
<div class="t" style="left:163px;top:365px;font-size:11px;color:#2f95e6">0.161</div>
<div class="t" style="left:196px;top:365px;font-size:11px;color:#e8771a">0.015</div>

<!-- price axis -->
<div class="t pa" style="top:64px">155.000</div>
<div class="t pa" style="top:157px">153.000</div>
<div class="t pa" style="top:204px">152.000</div>
<div class="t pa" style="top:251px">151.000</div>
<div class="t pa" style="top:298px">150.000</div>
<div class="t pa" style="top:344px">149.000</div>
<div class="t pa" style="top:390px">0.500</div>
<div class="t pa" style="top:438px">0.000</div>
<div class="t pa" style="top:486px">−0.500</div>
<div class="a" style="left:967px;top:104px;width:51px;height:16px;background:#05a8ef;border-radius:0 2px 2px 0"></div>
<div class="t pa" style="top:108px;color:#fff">154.057</div>

<!-- time axis -->
<div class="t ta" style="left:118px">21</div>
<div class="t ta" style="left:210px">23</div>
<div class="t ta" style="left:301px">25</div>
<div class="t ta" style="left:401px">29</div>
<div class="t ta" style="left:533px;letter-spacing:0">11<span style="font-size:10.5px">月</span></div>
<div class="t ta" style="left:640px">5</div>
<div class="t ta" style="left:731px">7</div>
<div class="t ta" style="left:823px">9</div>
<div class="t ta" style="left:912px">11</div>
</body></html>
